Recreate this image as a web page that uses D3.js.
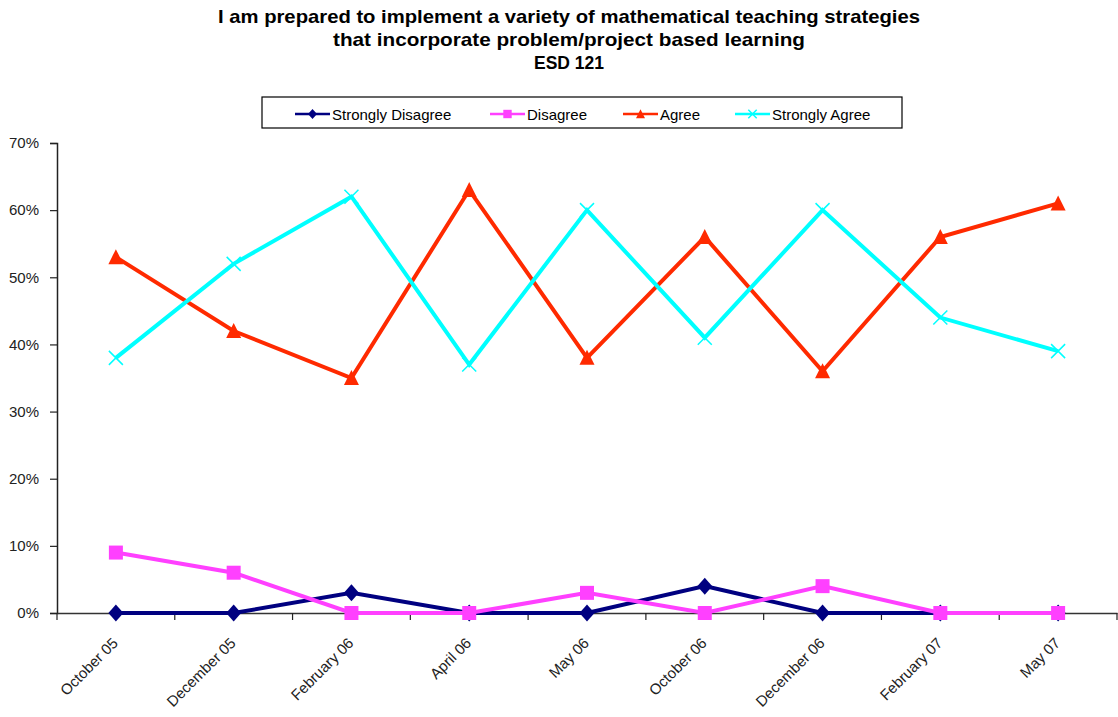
<!DOCTYPE html>
<html><head><meta charset="utf-8">
<script src="https://cdn.jsdelivr.net/npm/d3@7"></script>
<style>body{margin:0;background:#fff}svg{display:block}text{font-family:"Liberation Sans",Arial,sans-serif}</style>
</head><body>
<svg id="c" width="1118" height="717"></svg>
<script>
const categories = ["October 05","December 05","February 06","April 06","May 06","October 06","December 06","February 07","May 07"];
const stronglyDisagree = [0,0,3,0,0,4,0,0,0];
const disagree = [9,6,0,0,3,0,4,0,0];
const agree = [53,42,35,63,38,56,36,56,61];
const stronglyAgree = [38,52,62,37,60,41,60,44,39];
const yTicks = [0,10,20,30,40,50,60,70];
const titleLines = ["I am prepared to implement a variety of mathematical teaching strategies","that incorporate problem/project based learning","ESD 121"];

const series = [
  {name:"Strongly Disagree", values:stronglyDisagree, color:"#000080", marker:"diamond"},
  {name:"Disagree", values:disagree, color:"#ff40ff", marker:"square"},
  {name:"Agree", values:agree, color:"#ff2a00", marker:"triangle"},
  {name:"Strongly Agree", values:stronglyAgree, color:"#00ffff", marker:"x"}
];

const svg = d3.select("#c");
const pLeft = 57, pRight = 1117, pTop = 143, pBottom = 613;
const x = d3.scaleBand().domain(categories).range([pLeft, pRight]);
const y = d3.scaleLinear().domain([0,70]).range([pBottom, pTop]);
const FONT = '"Liberation Sans",Arial,sans-serif';

// title
const tw = [702, 472, 70];
svg.append("g").selectAll("text").data(titleLines).join("text")
  .attr("x", 569).attr("y",(d,i)=>23+i*23)
  .attr("text-anchor","middle").attr("font-size",19).attr("font-weight","bold")
  .attr("textLength",(d,i)=>tw[i]).attr("lengthAdjust","spacingAndGlyphs")
  .text(d=>d);

// y axis
const yAxis = d3.axisLeft(y).tickValues(yTicks).tickSize(7).tickPadding(11).tickFormat(d=>d+"%");
const gy = svg.append("g").attr("transform",`translate(${pLeft},0)`).call(yAxis);
gy.select(".domain").attr("stroke","#222").attr("stroke-width",1.5);
gy.selectAll(".tick line").attr("stroke","#222").attr("stroke-width",1.2);
gy.selectAll(".tick text").attr("font-size",15).attr("fill","#222").attr("font-family",FONT);

// x axis
const xAxis = d3.axisBottom(x).tickSize(0).tickPadding(0);
const gx = svg.append("g").attr("transform",`translate(0,${pBottom})`).call(xAxis);
gx.select(".domain").attr("stroke","#333").attr("stroke-width",1.5);
gx.selectAll(".tick text")
  .attr("font-size",15).attr("fill","#222").attr("font-family",FONT)
  .attr("text-anchor","end").attr("dy",0)
  .attr("transform","translate(3,31) rotate(-45)");
// boundary ticks
const bounds = categories.map(c=>x(c)).concat([pRight]);
svg.append("g").selectAll("line").data(bounds).join("line")
  .attr("x1",d=>d).attr("x2",d=>d).attr("y1",pBottom).attr("y2",pBottom+7)
  .attr("stroke","#222").attr("stroke-width",1.2);

// symbols
function drawMarker(g, type, color, cx, cy, s){
  s = s || 1;
  if(type==="diamond"){
    const w = 7.5*s, h = 8.5*s;
    g.append("path").attr("d",`M${cx},${cy-h}L${cx+w},${cy}L${cx},${cy+h}L${cx-w},${cy}Z`).attr("fill",color);
  } else if(type==="square"){
    const h = 7*s;
    g.append("rect").attr("x",cx-h).attr("y",cy-h).attr("width",2*h).attr("height",2*h).attr("fill",color);
  } else if(type==="triangle"){
    const w = 7.5*s, h = 7*s;
    g.append("path").attr("d",`M${cx},${cy-h-1*s}L${cx+w},${cy+h}L${cx-w},${cy+h}Z`).attr("fill",color);
  } else {
    const h = 7*s;
    g.append("path").attr("d",`M${cx-h},${cy-h}L${cx+h},${cy+h}M${cx-h},${cy+h}L${cx+h},${cy-h}`).attr("stroke",color).attr("stroke-width",1.5).attr("fill","none");
  }
}

const cxOf = c => x(c) + x.bandwidth()/2;
const line = d3.line().x((d,i)=>cxOf(categories[i])).y(d=>y(d));
const plot = svg.append("g");
series.forEach(s=>{
  const g = plot.append("g");
  g.append("path").datum(s.values).attr("d",line).attr("fill","none").attr("stroke",s.color).attr("stroke-width",4).attr("stroke-linejoin","miter");
  s.values.forEach((v,i)=>drawMarker(g, s.marker, s.color, cxOf(categories[i]), y(v)));
});

// legend
const lg = svg.append("g");
lg.append("rect").attr("x",262).attr("y",97).attr("width",640).attr("height",31).attr("fill","#fff").attr("stroke","#000").attr("stroke-width",1.2);
const lx = [295, 490, 623, 735];
series.forEach((s,i)=>{
  const g = lg.append("g");
  g.append("line").attr("x1",lx[i]).attr("x2",lx[i]+35).attr("y1",114).attr("y2",114).attr("stroke",s.color).attr("stroke-width",2.5);
  drawMarker(g, s.marker, s.color, lx[i]+17.5, 114, 0.6);
  g.append("text").attr("x",lx[i]+37).attr("y",120).attr("font-size",15).attr("fill","#000").text(s.name);
});
</script>
</body></html>
